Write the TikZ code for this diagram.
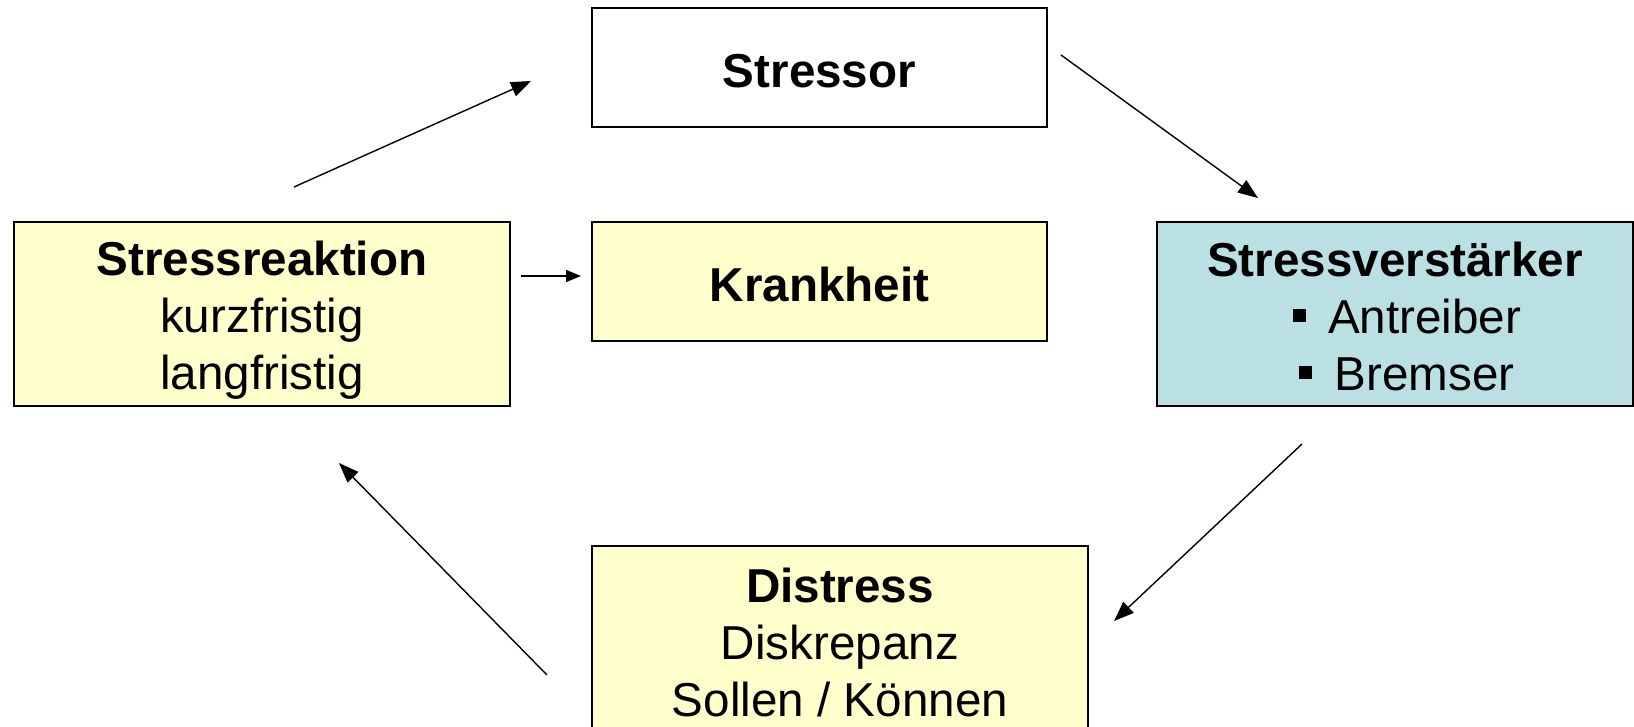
\documentclass[tikz,border=0pt]{standalone}
\usepackage{fontspec}
\setmainfont{Liberation Sans}
\usetikzlibrary{arrows.meta}
\definecolor{boxyellow}{HTML}{FFFFCC}
\definecolor{boxblue}{HTML}{BBE0E3}
\newcommand{\sqbullet}{\hspace*{24pt}\raisebox{0.24em}{\rule{0.27em}{0.27em}}\hspace{0.47em}}
\newcommand{\topstrut}[1]{\rule{0pt}{#1}}
\begin{document}
\begin{tikzpicture}[x=1pt,y=-1pt,
  box/.style={draw=black,line width=1.6pt,align=center,inner sep=0pt,
    font=\fontsize{47.6}{57}\selectfont},
  arr/.style={line width=1.4pt,-{Triangle[length=20pt,width=15pt]}},
  sarr/.style={line width=1.4pt,-{Triangle[length=15pt,width=12pt]}}]
\useasboundingbox (0,0) rectangle (1634,726);
\clip (0,0) rectangle (1634,726);
\fill[white] (0,0) rectangle (1634,726);
\node[box,fill=white,minimum width=455pt,minimum height=119pt] (stressor) at (819.5,67.5) {\topstrut{40pt}\textbf{Stressor}};
\node[box,fill=boxyellow,minimum width=455pt,minimum height=119pt] (krank) at (819.5,281.5) {\topstrut{40pt}\textbf{Krankheit}};
\node[box,fill=boxyellow,minimum width=496pt,minimum height=184pt] (react) at (262,314) {\topstrut{46pt}\textbf{Stressreaktion}\\kurzfristig\\langfristig};
\node[box,fill=boxblue,minimum width=476pt,minimum height=184pt] (verst) at (1395,314) {\topstrut{40pt}\textbf{Stressverstärker}\\\sqbullet Antreiber\\\sqbullet Bremser};
\node[box,fill=boxyellow,minimum width=496pt,minimum height=192pt] (distress) at (840,642) {\textbf{Distress}\\Diskrepanz\\Sollen / Können};
\coordinate (a1s) at (294,187);
\coordinate (a1e) at (531,81);
\coordinate (a2s) at (1061,55);
\coordinate (a2e) at (1258,198);
\coordinate (a3s) at (1302,444);
\coordinate (a3e) at (1114,621);
\coordinate (a4s) at (547,675);
\coordinate (a4e) at (339,463);
\coordinate (a5s) at (521,276);
\coordinate (a5e) at (581,276);
\draw[arr] (a1s) -- (a1e);
\draw[arr] (a2s) -- (a2e);
\draw[arr] (a3s) -- (a3e);
\draw[arr] (a4s) -- (a4e);
\draw[sarr] (a5s) -- (a5e);
\end{tikzpicture}
\end{document}
